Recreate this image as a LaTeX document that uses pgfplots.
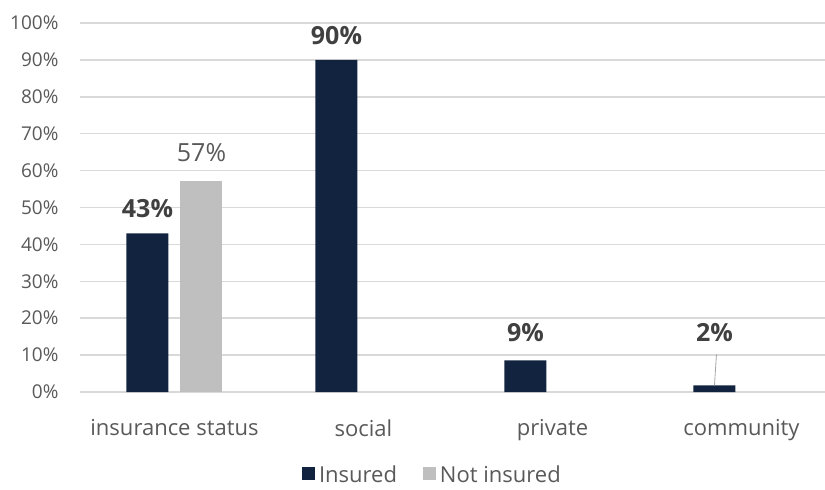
\documentclass[border=0pt]{standalone}
\usepackage{pgfplots}
\pgfplotsset{compat=1.18}
\usepackage{pgfplotstable}
\usepackage{fontspec}
\setmainfont{Open Sans}
\definecolor{navy}{HTML}{12233F}
\definecolor{lgray}{HTML}{BFBFBF}
\definecolor{txt}{HTML}{595959}
\definecolor{dtxt}{HTML}{404040}
\definecolor{gridc}{HTML}{D9D9D9}
\pgfplotstableread{
x y lab off
0 43 43 0
1 90 90 0
2 8.6 9 3
3 1.8 2 28
}\insured
\pgfplotstableread{
x y lab
0 57.2 57
}\notinsured
\begin{document}
\begin{tikzpicture}
\useasboundingbox (-80pt,-98pt) rectangle (745pt,392pt);
\begin{axis}[
  scale only axis,
  width=745pt, height=369pt,
  xmin=-0.5, xmax=3.442,
  ymin=0, ymax=100,
  axis x line*=bottom, axis y line*=left,
  axis line style={draw=none},
  ymajorgrids=true, xmajorgrids=false,
  major grid style={color=gridc, line width=1.6pt},
  ytick={0,10,...,100},
  yticklabel={\pgfmathprintnumber{\tick}\%},
  yticklabel style={font=\fontsize{19}{22}\selectfont, text=txt, xshift=-18pt},
  ytick style={draw=none}, xtick style={draw=none},
  /pgf/number format/assume math mode=true,
  xtick={0,1,2,3},
  xticklabels={insurance status, social, private, community},
  xticklabel style={font=\fontsize{22}{26}\selectfont, text=txt, yshift=-24pt},
  major tick length=0pt,
  ybar,
  bar width=42pt,
  legend style={at={(0.473,-0.224)}, anchor=center, draw=none, fill=none,
    inner sep=0pt, nodes={inner ysep=0pt},
    legend columns=2, font=\fontsize{22}{24}\selectfont, text=txt,
    /tikz/every even column/.append style={column sep=24pt}},
  legend image code/.code={\fill[#1] (0pt,-5pt) rectangle (13pt,8pt);},
  legend cell align=left,
]
\addplot[fill=navy, draw=none, bar shift=-27pt,
  point meta=explicit,
  visualization depends on={\thisrow{off} \as \off},
  nodes near coords={\pgfmathprintnumber{\pgfplotspointmeta}\%},
  every node near coord/.append style={font=\bfseries\fontsize{25}{28}\selectfont, text=dtxt, anchor=south, inner sep=0pt, yshift=15pt+\off pt}]
  table[x=x, y=y, meta=lab] {\insured};
\addlegendentry{\hspace{2pt}Insured}
\addplot[fill=lgray, draw=none, bar shift=27pt,
  point meta=explicit,
  nodes near coords={\pgfmathprintnumber{\pgfplotspointmeta}\%},
  every node near coord/.append style={font=\fontsize{25}{28}\selectfont, text=txt, anchor=south, inner sep=0pt, yshift=19pt}]
  table[x=x, y=y, meta=lab] {\notinsured};
\addlegendentry{\hspace{2pt}Not insured}
\draw[gray!70, line width=0.8pt] ([xshift=-27pt]axis cs:3,1.8) -- ([xshift=-25pt]axis cs:3,10.2);
\end{axis}
\end{tikzpicture}
\end{document}
